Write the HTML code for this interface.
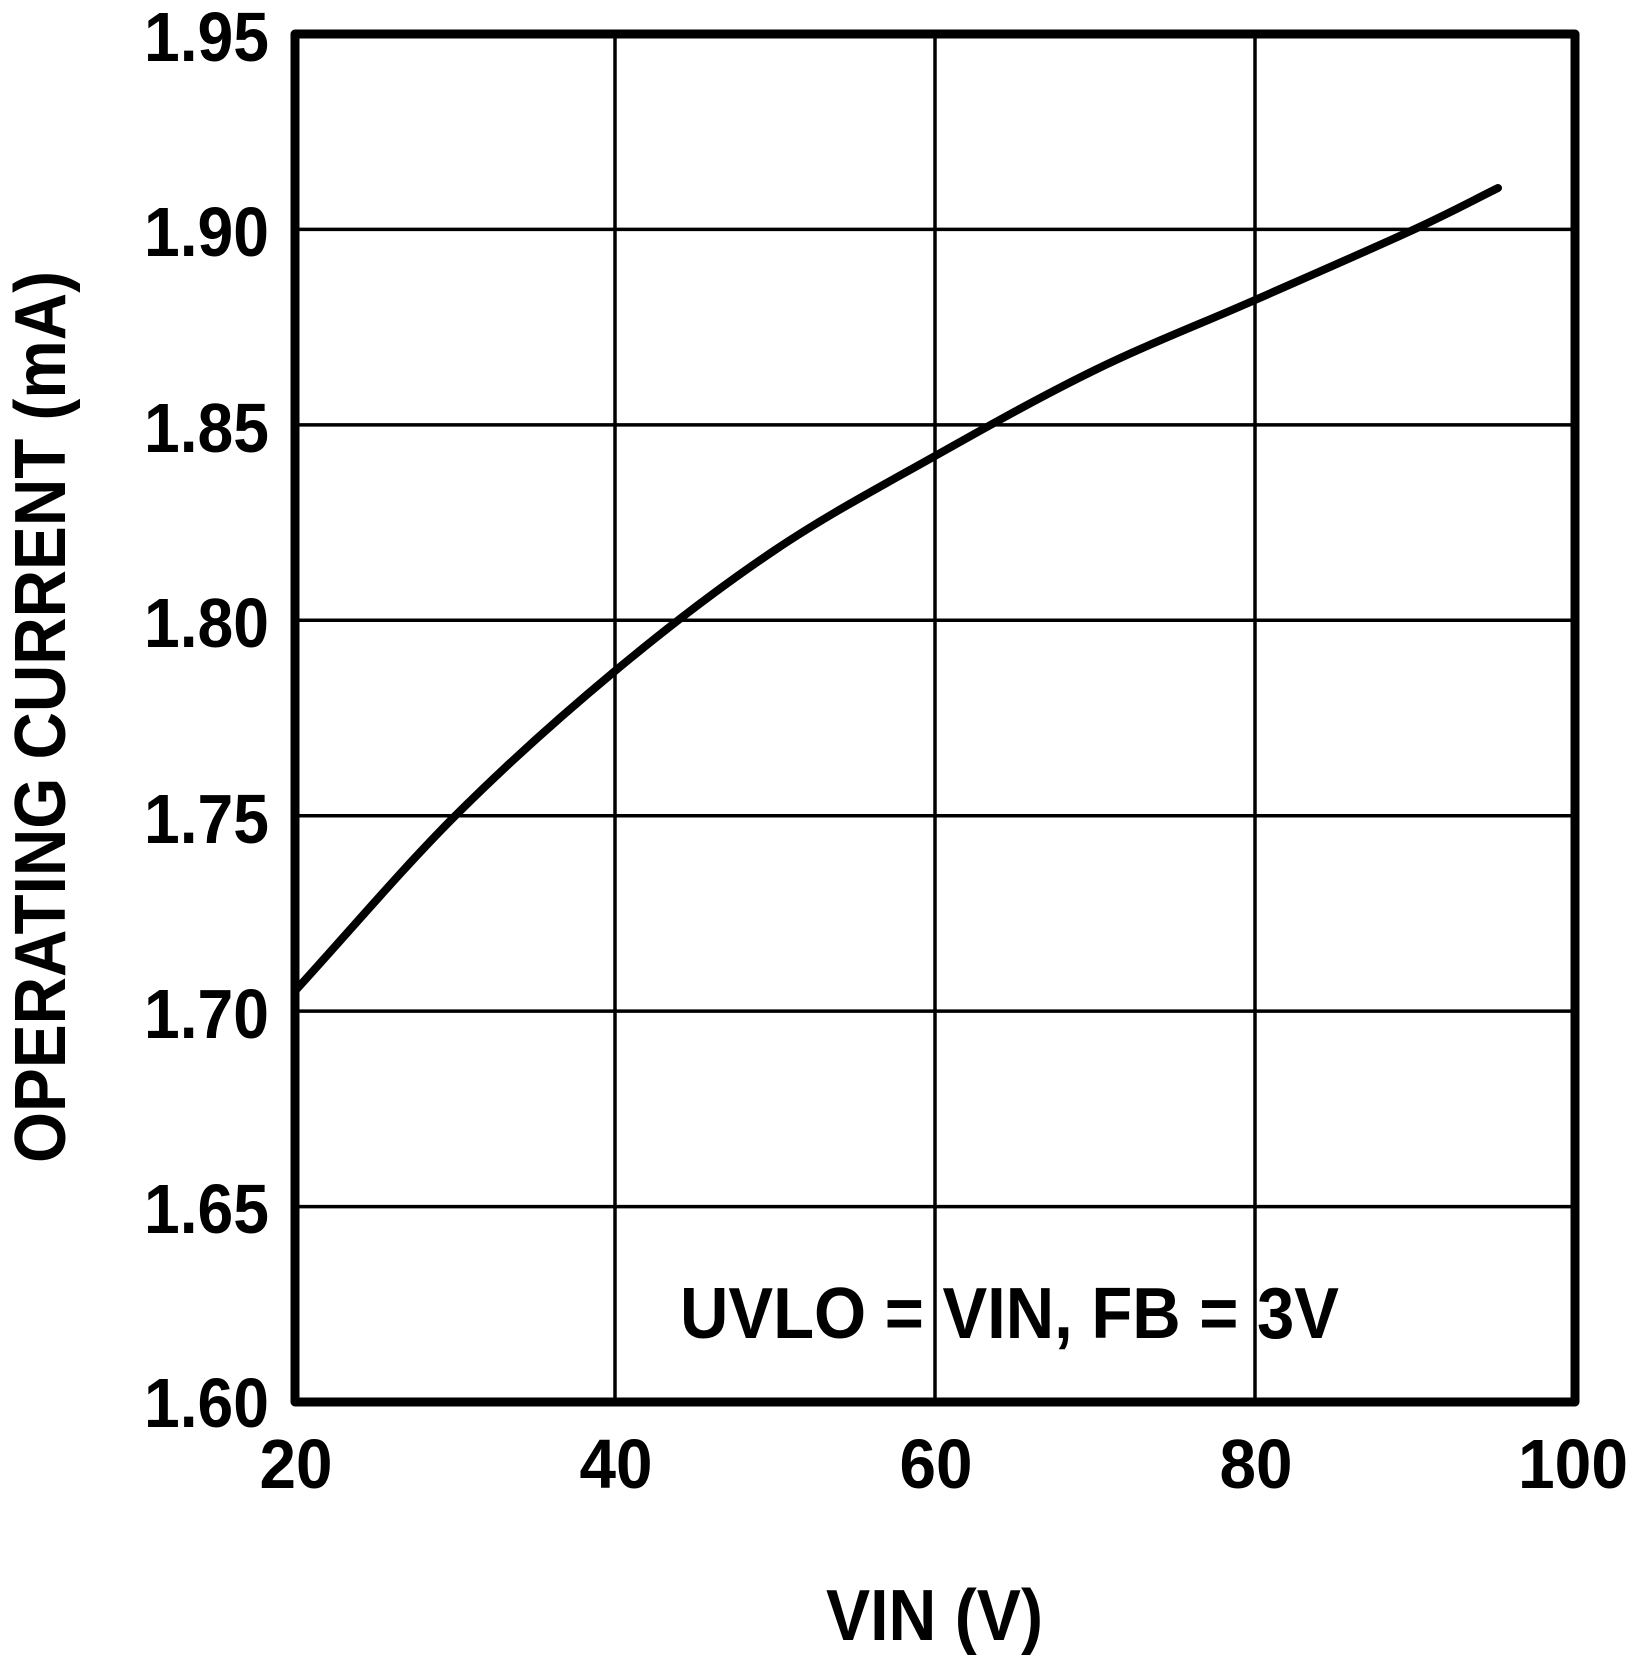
<!DOCTYPE html>
<html><head><meta charset="utf-8"><style>html,body{margin:0;padding:0;background:#fff}svg{display:block}</style></head>
<body>
<svg width="1640" height="1656" viewBox="0 0 1640 1656" xmlns="http://www.w3.org/2000/svg" font-family="Liberation Sans, Arial, sans-serif" font-weight="bold">
<g stroke="#000" stroke-width="3.5">
<line x1="615" y1="34" x2="615" y2="1402"/>
<line x1="935" y1="34" x2="935" y2="1402"/>
<line x1="1255" y1="34" x2="1255" y2="1402"/>
<line x1="295" y1="229.4" x2="1575" y2="229.4"/>
<line x1="295" y1="424.9" x2="1575" y2="424.9"/>
<line x1="295" y1="620.3" x2="1575" y2="620.3"/>
<line x1="295" y1="815.7" x2="1575" y2="815.7"/>
<line x1="295" y1="1011.1" x2="1575" y2="1011.1"/>
<line x1="295" y1="1206.6" x2="1575" y2="1206.6"/>
</g>
<rect x="295" y="34" width="1280" height="1368" fill="none" stroke="#000" stroke-width="9" stroke-linejoin="round"/>
<path d="M295,991 C348,933 401.7,869.3 455,816 C508.3,762.7 561.7,715.3 615,671 C668.3,626.7 721.7,585.8 775,550 C828.3,514.2 881.7,486 935,456 C988.3,426 1041.7,396 1095,370 C1148.3,344 1201.7,323.5 1255,300 C1308.3,276.5 1374.5,247.7 1415,229 C1455.5,210.3 1470.3,201.7 1498,188" fill="none" stroke="#000" stroke-width="8" stroke-linecap="round" stroke-linejoin="round"/>
<g font-size="70" text-anchor="end">
<text x="269" y="61" textLength="125" lengthAdjust="spacingAndGlyphs">1.95</text>
<text x="269" y="256" textLength="125" lengthAdjust="spacingAndGlyphs">1.90</text>
<text x="269" y="452" textLength="125" lengthAdjust="spacingAndGlyphs">1.85</text>
<text x="269" y="647" textLength="125" lengthAdjust="spacingAndGlyphs">1.80</text>
<text x="269" y="843" textLength="125" lengthAdjust="spacingAndGlyphs">1.75</text>
<text x="269" y="1038" textLength="125" lengthAdjust="spacingAndGlyphs">1.70</text>
<text x="269" y="1233" textLength="125" lengthAdjust="spacingAndGlyphs">1.65</text>
<text x="269" y="1427" textLength="125" lengthAdjust="spacingAndGlyphs">1.60</text>
</g>
<g font-size="70" text-anchor="middle">
<text x="296" y="1488" textLength="73" lengthAdjust="spacingAndGlyphs">20</text>
<text x="616" y="1488" textLength="73" lengthAdjust="spacingAndGlyphs">40</text>
<text x="936" y="1488" textLength="73" lengthAdjust="spacingAndGlyphs">60</text>
<text x="1256" y="1488" textLength="73" lengthAdjust="spacingAndGlyphs">80</text>
<text x="1573" y="1488" textLength="110" lengthAdjust="spacingAndGlyphs">100</text>
</g>
<text x="826" y="1640" font-size="72" textLength="217" lengthAdjust="spacingAndGlyphs">VIN (V)</text>
<text x="680" y="1338" font-size="72" textLength="659" lengthAdjust="spacingAndGlyphs">UVLO = VIN, FB = 3V</text>
<text transform="translate(65,1163) rotate(-90)" x="0" y="0" font-size="72" textLength="892" lengthAdjust="spacingAndGlyphs">OPERATING CURRENT (mA)</text>
</svg>
</body></html>
